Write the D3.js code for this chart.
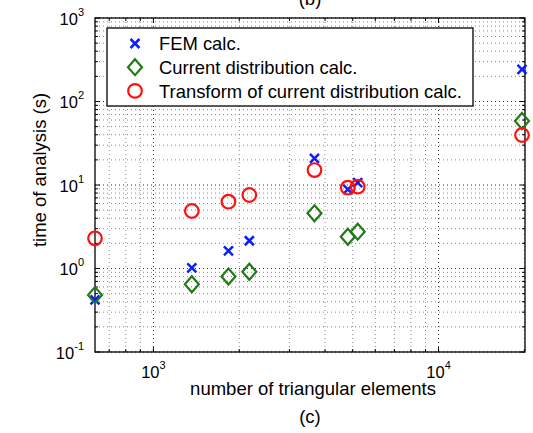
<!DOCTYPE html>
<html>
<head>
<meta charset="utf-8">
<script src="https://cdn.jsdelivr.net/npm/d3@7"></script>
<style>
body { margin: 0; background: #fff; }
text { font-family: "Liberation Sans", Arial, sans-serif; fill: #000; }
</style>
</head>
<body>
<svg width="533" height="433"></svg>
<script>
var elements = [624, 1364, 1833, 2170, 3672, 4806, 5206, 19616];
var femTime = [0.42, 1.02, 1.63, 2.15, 20.9, 8.88, 10.65, 243];
var currentTime = [0.48, 0.647, 0.80, 0.915, 4.58, 2.40, 2.76, 58.4];
var transformTime = [2.30, 4.88, 6.31, 7.59, 15.1, 9.28, 9.55, 39.7];
var legendLabels = ["FEM calc.", "Current distribution calc.", "Transform of current distribution calc."];
var xTicks = [1000, 10000];
var yTicks = [0.1, 1, 10, 100, 1000];

var svg = d3.select("svg");
var pLeft = 95, pRight = 525, pTop = 18, pBottom = 352;

var x = d3.scaleLog().domain([624, 20100]).range([pLeft, pRight]);
var y = d3.scaleLog().domain([0.1, 1000]).range([pBottom, pTop]);

// minor positions 1..9 per decade
function logMinor(lo, hi) {
  var out = [];
  for (var e = Math.floor(Math.log10(lo)); e <= Math.ceil(Math.log10(hi)); e++) {
    for (var m = 1; m < 10; m++) {
      var v = m * Math.pow(10, e);
      if (v >= lo * 0.999 && v <= hi * 1.001) out.push(v);
    }
  }
  return out;
}
var xMinor = logMinor(624, 20100);
var yMinor = logMinor(0.1, 1000);
function isMajor(v) { return Math.abs(Math.log10(v) - Math.round(Math.log10(v))) < 1e-6; }

// GRID
var grid = svg.append("g");
grid.selectAll(".vg").data(xMinor).enter().append("line")
  .attr("x1", d => x(d)).attr("x2", d => x(d))
  .attr("y1", pTop).attr("y2", pBottom)
  .attr("stroke", d => isMajor(d) ? "#333" : "#888")
  .attr("stroke-dasharray", "1,3");
grid.selectAll(".hg").data(yMinor).enter().append("line")
  .attr("y1", d => y(d)).attr("y2", d => y(d))
  .attr("x1", pLeft).attr("x2", pRight)
  .attr("stroke", d => isMajor(d) ? "#333" : "#888")
  .attr("stroke-dasharray", "1,3");

// TICKS on all four sides
var ticks = svg.append("g").attr("stroke", "#000").attr("stroke-width", 1);
xMinor.forEach(function(d) {
  var l = isMajor(d) ? 5 : 3;
  ticks.append("line").attr("x1", x(d)).attr("x2", x(d)).attr("y1", pBottom).attr("y2", pBottom - l);
  ticks.append("line").attr("x1", x(d)).attr("x2", x(d)).attr("y1", pTop).attr("y2", pTop + l);
});
yMinor.forEach(function(d) {
  var l = isMajor(d) ? 5 : 3;
  ticks.append("line").attr("y1", y(d)).attr("y2", y(d)).attr("x1", pLeft).attr("x2", pLeft + l);
  ticks.append("line").attr("y1", y(d)).attr("y2", y(d)).attr("x1", pRight).attr("x2", pRight - l);
});

svg.append("rect")
  .attr("x", pLeft).attr("y", pTop)
  .attr("width", pRight - pLeft).attr("height", pBottom - pTop)
  .attr("fill", "none").attr("stroke", "#000").attr("stroke-width", 1.3);

// TICK LABELS
function powLabel(sel, v) {
  sel.append("tspan").text("10");
  sel.append("tspan").attr("dy", -9).attr("font-size", 11).text(Math.round(Math.log10(v)));
}
svg.selectAll(".xl").data(xTicks).enter().append("text")
  .attr("x", d => x(d)).attr("y", 378)
  .attr("text-anchor", "middle").attr("font-size", 16.5)
  .each(function(d) { powLabel(d3.select(this), d); });
svg.selectAll(".yl").data(yTicks).enter().append("text")
  .attr("x", 84).attr("y", d => y(d) + 6.5)
  .attr("text-anchor", "end").attr("font-size", 16.5)
  .each(function(d) { powLabel(d3.select(this), d); });

// AXIS LABELS
svg.append("text").attr("x", 313).attr("y", 395)
  .attr("text-anchor", "middle").attr("font-size", 18.5)
  .text("number of triangular elements");
svg.append("text").attr("transform", "translate(46," + ((pTop + pBottom) / 2 - 15) + ") rotate(-90)")
  .attr("text-anchor", "middle").attr("font-size", 18.5)
  .text("time of analysis (s)");
svg.append("text").attr("x", 310).attr("y", 423)
  .attr("text-anchor", "middle").attr("font-size", 18.5).text("(c)");
svg.append("text").attr("x", 310).attr("y", 5)
  .attr("text-anchor", "middle").attr("font-size", 18.5).text("(b)");

// MARKERS
var blue = "#0a1eff", green = "#237a1a", red = "#ff1010";
function cross(g, cx, cy) {
  g.append("path")
    .attr("d", `M${cx - 4.5},${cy - 4.5}L${cx + 4.5},${cy + 4.5}M${cx - 4.5},${cy + 4.5}L${cx + 4.5},${cy - 4.5}`)
    .attr("stroke", blue).attr("stroke-width", 2.5).attr("fill", "none");
}
function diamond(g, cx, cy) {
  g.append("path")
    .attr("d", `M${cx},${cy - 8}L${cx + 7},${cy}L${cx},${cy + 8}L${cx - 7},${cy}Z`)
    .attr("stroke", green).attr("stroke-width", 2.2).attr("fill", "none");
}
function circle(g, cx, cy) {
  g.append("circle").attr("cx", cx).attr("cy", cy).attr("r", 6.8)
    .attr("stroke", red).attr("stroke-width", 2.2).attr("fill", "none");
}

var marks = svg.append("g");
elements.forEach((e, i) => cross(marks, x(e), y(femTime[i])));
elements.forEach((e, i) => diamond(marks, x(e), y(currentTime[i])));
elements.forEach((e, i) => circle(marks, x(e), y(transformTime[i])));

// LEGEND
var legend = svg.append("g");
legend.append("rect")
  .attr("x", 107).attr("y", 28).attr("width", 366).attr("height", 78)
  .attr("fill", "#fff").attr("stroke", "#000").attr("stroke-width", 1.3);
var drawers = [cross, diamond, circle];
legendLabels.forEach(function(lbl, i) {
  var ly = 43.5 + i * 23.7;
  drawers[i](legend, 135, ly);
  legend.append("text").attr("x", 159).attr("y", ly).attr("dy", "0.36em")
    .attr("font-size", 18.4).text(lbl);
});
</script>
</body>
</html>
